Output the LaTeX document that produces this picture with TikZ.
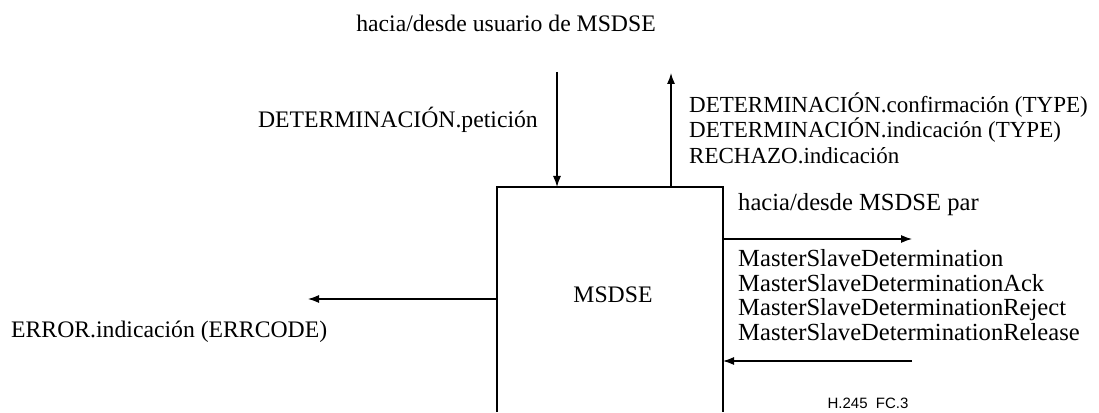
\documentclass[tikz,border=0pt]{standalone}
\usepackage{fontspec}
\setmainfont{Liberation Serif}
\setsansfont{Liberation Sans}
\usepackage{tikz}
\usetikzlibrary{arrows.meta,
           positioning}

\begin{document}
\begin{tikzpicture}[x=1pt,y=1pt,font=\fontsize{23.7}{25.5}\selectfont,
  trait/.style={line width=1.2pt},
  fleche/.style={trait,-{Latex[length=11pt,width=8pt]}},
  pair/.style={anchor=west,align=left,inner sep=0pt,font=\fontsize{24.6}{24.4}\selectfont}]
\useasboundingbox (0,0) rectangle (1099,412);
% le bloc MSDSE (ouvert en bas)
\coordinate (bg) at (497,0);
\coordinate (hg) at (497,225);
\coordinate (hd) at (723,225);
\coordinate (bd) at (723,0);
\draw[trait] (bg)--(hg)--(hd)--(bd);
\node (msdse) at (613,117) {MSDSE};
% vers/depuis l'usager
\node (usuario) at (506,389) {hacia/desde usuario de MSDSE};
\coordinate (pet1) at (557,340);
\coordinate (pet2) at (557,225);
\draw[fleche] (pet1)--(pet2);
\node[anchor=east,inner sep=0pt] (peticion) at (538,292) {DETERMINACIÓN.petición};
\coordinate (conf1) at (671,225);
\coordinate (conf2) at (671,339);
\draw[fleche] (conf1)--(conf2);
\node[anchor=west,align=left,inner sep=0pt,font=\fontsize{23}{25.5}\selectfont] (confirm) at (689,284)
  {DETERMINACIÓN.confirmación (TYPE)\\DETERMINACIÓN.indicación (TYPE)\\RECHAZO.indicación};
% vers/depuis le pair
\node[pair] (par) at (738,207) {hacia/desde MSDSE par};
\coordinate (sort1) at (723,173);
\coordinate (sort2) at (912,173);
\draw[fleche] (sort1)--(sort2);
\node[pair] (msd) at (738,117)
  {MasterSlaveDetermination\\MasterSlaveDeterminationAck\\MasterSlaveDeterminationReject\\MasterSlaveDeterminationRelease};
\coordinate (ent1) at (912,51);
\coordinate (ent2) at (723,51);
\draw[fleche] (ent1)--(ent2);
% erreur
\coordinate (err1) at (497,113);
\coordinate (err2) at (308,113);
\draw[fleche] (err1)--(err2);
\node[anchor=west,inner sep=0pt] (error) at (11,80) {ERROR.indicación (ERRCODE)};
\node[font=\sffamily\fontsize{15}{16}\selectfont] (ref) at (868,9) {H.245\ \ FC.3};
\end{tikzpicture}
\end{document}
